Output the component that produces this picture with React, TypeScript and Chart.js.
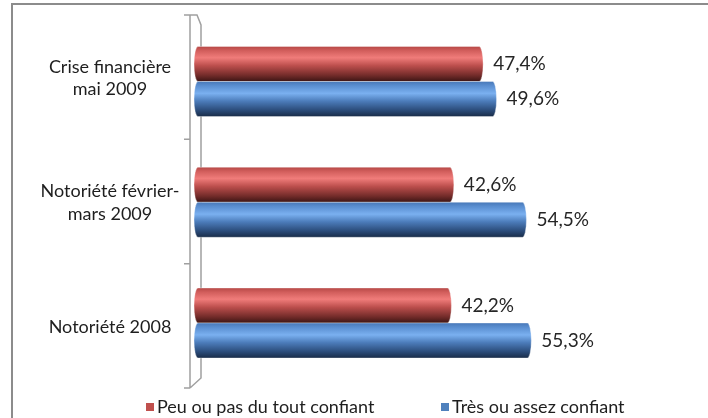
import React, { useEffect, useRef } from "react";
import { Chart, registerables } from "chart.js";

Chart.register(...registerables);

const categoryLabels: string[][] = [
  ["Crise financière", "mai 2009"],
  ["Notoriété février-", "mars 2009"],
  ["Notoriété 2008"],
];
const seriesNames = ["Peu ou pas du tout confiant", "Très ou assez confiant"];
const peuConfiant = [47.4, 42.6, 42.2];
const tresConfiant = [49.6, 54.5, 55.3];
const legendColors = ["#c0504d", "#4f81bd"];

const FONT = "Lato, 'Open Sans', sans-serif";

const gradStops = [
  [
    [0, "#b64846"],
    [0.12, "#d25e5c"],
    [0.32, "#f07c7a"],
    [0.55, "#bb4e4c"],
    [0.82, "#742c2a"],
    [1, "#3c1514"],
  ],
  [
    [0, "#4878b8"],
    [0.12, "#5a8ed0"],
    [0.34, "#7ab0f0"],
    [0.56, "#4c7cba"],
    [0.82, "#2b4c7a"],
    [1, "#192c48"],
  ],
];

const fmt = (v: number) => v.toFixed(1).replace(".", ",") + "%";

const framePlugin = {
  id: "frame",
  beforeDraw(chart: any) {
    const ctx = chart.ctx;
    ctx.save();
    ctx.strokeStyle = "#8c8c8c";
    ctx.lineWidth = 2;
    ctx.beginPath();
    ctx.moveTo(12, chart.height);
    ctx.lineTo(12, 4);
    ctx.lineTo(chart.width, 4);
    ctx.stroke();
    ctx.restore();
  },
};

const wallPlugin = {
  id: "wall",
  beforeDatasetsDraw(chart: any) {
    const ys = chart.scales.y;
    const ctx = chart.ctx;
    const top = chart.chartArea.top;
    const bottom = chart.chartArea.bottom;
    const front = chart.chartArea.left - 4;
    const back = chart.chartArea.left + 7;
    ctx.save();
    ctx.strokeStyle = "#a0a0a0";
    ctx.lineWidth = 1.5;
    ctx.beginPath();
    ctx.moveTo(front, top);
    ctx.lineTo(front, bottom);
    ctx.moveTo(front - 5, top);
    ctx.lineTo(back - 4, top);
    ctx.lineTo(back, top + 10);
    ctx.lineTo(back, bottom - 10);
    ctx.lineTo(front, bottom);
    for (let i = 0; i <= categoryLabels.length; i++) {
      const yy = ys.getPixelForValue(i - 0.5);
      ctx.moveTo(front - 6, yy);
      ctx.lineTo(front, yy);
    }
    ctx.stroke();
    ctx.restore();
  },
};

const barsPlugin = {
  id: "bars3d",
  afterDatasetsDraw(chart: any) {
    const ctx = chart.ctx;
    chart.data.datasets.forEach((ds: any, d: number) => {
      const meta = chart.getDatasetMeta(d);
      meta.data.forEach((el: any, i: number) => {
        const p = el.getProps(["x", "y", "base", "height"], true);
        const left = p.base;
        const right = p.x;
        const h = p.height;
        const top = p.y - h / 2;
        const bottom = p.y + h / 2;
        const rx = 4;
        const g = ctx.createLinearGradient(0, top, 0, bottom);
        gradStops[d].forEach((s: any) => g.addColorStop(s[0], s[1]));
        ctx.save();
        ctx.beginPath();
        ctx.moveTo(left + rx, top);
        ctx.lineTo(right - rx, top);
        ctx.ellipse(right - rx, p.y, rx, h / 2, 0, -Math.PI / 2, Math.PI / 2);
        ctx.lineTo(left + rx, bottom);
        ctx.ellipse(left + rx, p.y, rx, h / 2, 0, Math.PI / 2, (3 * Math.PI) / 2);
        ctx.closePath();
        ctx.fillStyle = g;
        ctx.fill();
        ctx.strokeStyle = "rgba(255,255,255,0.35)";
        ctx.lineWidth = 1;
        ctx.stroke();
        ctx.fillStyle = "#262626";
        ctx.font = `19px ${FONT}`;
        ctx.textAlign = "left";
        ctx.textBaseline = "middle";
        const v = ds.data[i].x;
        ctx.fillText(fmt(v), right + 10, p.y);
        ctx.restore();
      });
    });
  },
};

const labelsPlugin = {
  id: "catLabels",
  afterDraw(chart: any) {
    const ctx = chart.ctx;
    const ys = chart.scales.y;
    ctx.save();
    ctx.fillStyle = "#1e1e1e";
    ctx.font = `18px ${FONT}`;
    ctx.textAlign = "center";
    ctx.textBaseline = "middle";
    const lh = 22.5;
    categoryLabels.forEach((lines, i) => {
      const cy = ys.getPixelForValue(i) + 1;
      lines.forEach((line, k) => {
        const yy = cy + (k - (lines.length - 1) / 2) * lh;
        ctx.fillText(line, 110, yy);
      });
    });
    // legend
    const legX = [146, 441];
    const legY = 407;
    seriesNames.forEach((name, i) => {
      ctx.fillStyle = legendColors[i];
      ctx.fillRect(legX[i], legY - 4, 8, 8);
      ctx.fillStyle = "#1e1e1e";
      ctx.textAlign = "left";
      ctx.fillText(name, legX[i] + 11, legY);
    });
    ctx.restore();
  },
};

export default function App() {
  const ref = useRef<HTMLCanvasElement>(null);
  useEffect(() => {
    if (!ref.current) return;
    const chart = new Chart(ref.current, {
      type: "bar",
      data: {
        labels: categoryLabels.map((l) => l.join(" ")),
        datasets: [
          {
            label: seriesNames[0],
            data: peuConfiant.map((v, i) => ({ x: v, y: i })),
            backgroundColor: "rgba(0,0,0,0)",
            borderWidth: 0,
            xAxisID: "x",
            yAxisID: "yb",
          },
          {
            label: seriesNames[1],
            data: tresConfiant.map((v, i) => ({ x: v, y: i })),
            backgroundColor: "rgba(0,0,0,0)",
            borderWidth: 0,
            xAxisID: "x",
            yAxisID: "yb",
          },
        ],
      },
      options: {
        indexAxis: "y",
        responsive: false,
        animation: false,
        events: [],
        layout: { padding: { left: 194, right: 26, top: 15, bottom: 30 } },
        datasets: { bar: { barThickness: 35, categoryPercentage: 1, barPercentage: 1 } },
        scales: {
          x: { type: "linear", min: 0, max: 80, display: false },
          yb: {
            type: "linear",
            reverse: true,
            offset: false,
            bounds: "data",
            grace: 0,
            min: -0.5507,
            max: 2.538,
            display: false,
            ticks: { stepSize: 1 },
          },
          y: { type: "category", offset: true, display: false },
        },
        plugins: { legend: { display: false }, tooltip: { enabled: false } },
      },
      plugins: [framePlugin, wallPlugin, barsPlugin, labelsPlugin],
    } as any);
    return () => chart.destroy();
  }, []);
  return (
    <div style={{ position: "fixed", left: 0, top: 0, width: 708, height: 418, background: "#fff" }}>
      <canvas ref={ref} width={708} height={418} />
    </div>
  );
}
